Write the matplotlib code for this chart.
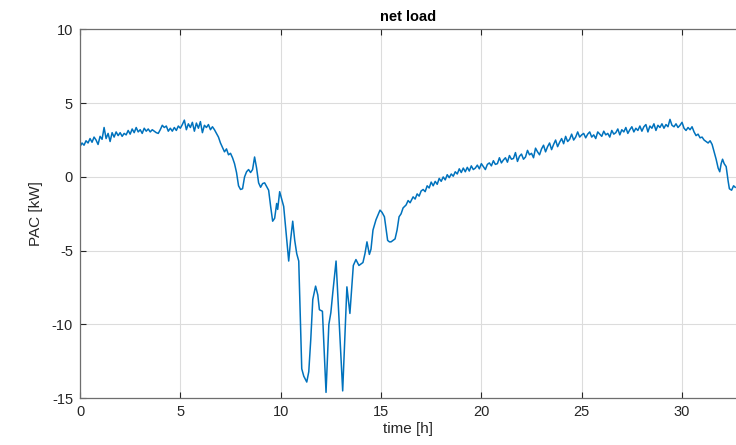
"""Net load PAC over time, MATLAB-style line plot."""
import matplotlib
matplotlib.use("Agg")
import matplotlib.pyplot as plt

# time [h] and PAC [kW]
time_h = [
    0.0, 0.1, 0.2, 0.3, 0.4, 0.5, 0.6, 0.7, 0.8, 0.9,
    1.0, 1.1, 1.2, 1.3, 1.4, 1.5, 1.6, 1.7, 1.8, 1.9,
    2.0, 2.1, 2.2, 2.3, 2.4, 2.5, 2.6, 2.7, 2.8, 2.9,
    3.0, 3.1, 3.2, 3.3, 3.4, 3.5, 3.6, 3.7, 3.8, 3.9,
    4.0, 4.1, 4.2, 4.3, 4.4, 4.5, 4.6, 4.7, 4.8, 4.9,
    5.0, 5.1, 5.2, 5.3, 5.4, 5.5, 5.6, 5.7, 5.8, 5.9,
    6.0, 6.1, 6.2, 6.3, 6.4, 6.5, 6.6, 6.7, 6.8, 6.9,
    7.0, 7.1, 7.2, 7.3, 7.4, 7.5, 7.6, 7.7, 7.8, 7.9,
    8.0, 8.1, 8.2, 8.3, 8.4, 8.5, 8.6, 8.7, 8.8, 8.9,
    9.0, 9.1, 9.2, 9.3, 9.4, 9.5, 9.6, 9.7, 9.8, 9.85,
    9.95, 10.05, 10.15, 10.27, 10.4, 10.5, 10.6, 10.7, 10.8, 10.9,
    11.05, 11.15, 11.3, 11.4, 11.5, 11.6, 11.74, 11.85, 11.93, 12.08,
    12.26, 12.4, 12.5, 12.6, 12.76, 12.9, 13.09, 13.3, 13.45, 13.62,
    13.75, 13.9, 14.1, 14.2, 14.3, 14.42, 14.5, 14.6, 14.75, 14.95,
    15.05, 15.17, 15.33, 15.42, 15.5, 15.6, 15.7, 15.8, 15.9, 16.0,
    16.1, 16.25, 16.35, 16.45, 16.6, 16.7, 16.8, 16.9, 17.0,
    17.1, 17.2, 17.3, 17.4, 17.5, 17.6, 17.7, 17.8, 17.9,
    18.0, 18.1, 18.2, 18.3, 18.4, 18.5, 18.6, 18.7, 18.8, 18.9,
    19.0, 19.1, 19.2, 19.3, 19.4, 19.5, 19.6, 19.7, 19.8, 19.9,
    20.0, 20.1, 20.2, 20.3, 20.4, 20.5, 20.6, 20.7, 20.8, 20.9,
    21.0, 21.1, 21.2, 21.3, 21.4, 21.5, 21.6, 21.7, 21.8, 21.9,
    22.0, 22.1, 22.2, 22.3, 22.4, 22.5, 22.6, 22.7, 22.8, 22.9,
    23.0, 23.1, 23.2, 23.3, 23.4, 23.5, 23.6, 23.7, 23.8, 23.9,
    24.0, 24.1, 24.2, 24.3, 24.4, 24.5, 24.6, 24.7, 24.8, 24.9,
    25.0, 25.1, 25.2, 25.3, 25.4, 25.5, 25.6, 25.7, 25.8, 25.9,
    26.0, 26.1, 26.2, 26.3, 26.4, 26.5, 26.6, 26.7, 26.8, 26.9,
    27.0, 27.1, 27.2, 27.3, 27.4, 27.5, 27.6, 27.7, 27.8, 27.9,
    28.0, 28.1, 28.2, 28.3, 28.4, 28.5, 28.6, 28.7, 28.8, 28.9,
    29.0, 29.1, 29.2, 29.3, 29.4, 29.5, 29.6, 29.7, 29.8, 29.9,
    30.0, 30.1, 30.2, 30.3, 30.4, 30.5, 30.6, 30.7, 30.8, 30.9,
    31.0, 31.1, 31.2, 31.3, 31.4, 31.5, 31.6, 31.7, 31.8, 31.88,
    31.95, 32.02, 32.1, 32.2, 32.3, 32.36, 32.47, 32.57, 32.65,
]
pac_kw = [
    2.05, 2.3, 2.15, 2.45, 2.3, 2.6, 2.35, 2.7, 2.5, 2.2,
    2.75, 2.55, 3.35, 2.6, 2.95, 2.4, 3.0, 2.7, 3.05, 2.8,
    3.0, 2.75, 2.95, 2.85, 3.15, 2.9, 3.25, 3.0, 3.35, 3.05,
    3.2, 2.95, 3.3, 3.1, 3.25, 3.05, 3.2, 3.1, 3.0, 2.95,
    3.2, 3.5, 3.35, 3.45, 3.1, 3.3, 3.1, 3.35, 3.15, 3.45,
    3.3, 3.55, 3.85, 3.2, 3.6, 3.35, 3.7, 3.1, 3.65, 3.3,
    3.75, 3.0, 3.5, 3.35, 3.55, 3.2, 3.4, 3.2, 2.95, 2.7,
    2.3, 2.0, 1.7, 1.9, 1.5, 1.6, 1.3, 0.9, 0.3, -0.6,
    -0.85, -0.8, 0.0, 0.35, 0.5, 0.3, 0.5, 1.35, 0.6, -0.4,
    -0.7, -0.45, -0.4, -0.65, -0.9, -2.0, -3.0, -2.8, -1.8, -2.2,
    -1.0, -1.5, -2.0, -3.8, -5.7, -4.2, -3.0, -4.3, -5.2, -5.7,
    -13.0, -13.5, -13.9, -13.2, -11.0, -8.3, -7.4, -8.0, -9.0, -9.1,
    -14.6, -10.0, -9.2, -7.8, -5.7, -9.4, -14.5, -7.45, -9.25, -6.0,
    -5.6, -6.0, -5.8, -5.2, -4.4, -5.25, -4.9, -3.6, -2.9, -2.25,
    -2.4, -2.7, -4.3, -4.4, -4.4, -4.3, -4.2, -3.6, -2.7, -2.5,
    -2.1, -1.9, -1.6, -1.75, -1.35, -1.5, -1.15, -1.3, -0.95,
    -0.85, -1.0, -0.6, -0.75, -0.35, -0.6, -0.3, -0.5, -0.1,
    -0.3, 0.0, -0.2, 0.15, -0.05, 0.2, 0.05, 0.35, 0.2, 0.55,
    0.3, 0.6, 0.35, 0.65, 0.4, 0.75, 0.5, 0.6, 0.8, 0.55,
    0.9, 0.7, 0.5, 0.85, 0.95, 0.75, 1.1, 0.85, 0.9, 1.3,
    0.95, 1.15, 1.3, 1.0, 1.45, 1.2, 1.25, 1.65, 1.05, 1.4,
    1.55, 1.2, 1.35, 1.8, 1.5, 1.6, 1.3, 1.95, 1.7, 1.5,
    1.9, 2.15, 1.7, 2.05, 2.3, 1.85, 2.2, 2.5, 2.05, 2.35,
    2.6, 2.25, 2.75, 2.4, 2.55, 2.9, 2.5, 2.7, 3.05, 2.7,
    2.85, 2.95, 2.65, 2.9, 3.05, 2.7, 2.85, 2.6, 3.05, 2.9,
    2.75, 3.1, 2.85, 2.95, 2.7, 3.15, 2.9, 3.0, 3.25, 2.85,
    3.2, 3.05, 3.35, 2.95, 3.2, 3.4, 3.05, 3.3, 3.15, 3.45,
    3.1, 3.4, 3.55, 3.05, 3.45, 3.3, 3.6, 3.15, 3.5, 3.35,
    3.6, 3.3, 3.55, 3.4, 3.9, 3.5, 3.4, 3.6, 3.35, 3.5,
    3.7, 3.3, 3.15, 3.35, 3.2, 3.4, 3.05, 2.8, 2.9, 2.65,
    2.7, 2.5, 2.4, 2.3, 2.45, 2.2, 1.7, 1.2, 0.6, 0.35,
    0.9, 1.2, 0.9, 0.7, -0.3, -0.8, -0.9, -0.6, -0.7,
]

x_ticks = [0, 5, 10, 15, 20, 25, 30]
y_ticks = [-15, -10, -5, 0, 5, 10]

plt.rcParams["font.family"] = ["Liberation Sans", "DejaVu Sans"]
plt.rcParams["axes.unicode_minus"] = False
axis_col = "#262626"

fig = plt.figure(figsize=(7.36, 4.45), dpi=100)
ax = fig.add_axes([0.1087, 0.105, 0.8913, 0.829])

ax.plot(time_h, pac_kw, color="#0072BD", linewidth=1.1)

ax.set_xlim(0, 32.69)
ax.set_ylim(-15, 10)
ax.set_xticks(x_ticks)
ax.set_yticks(y_ticks)
ax.grid(True, color="#dcdcdc", linewidth=0.8)
ax.set_axisbelow(True)

ax.tick_params(direction="in", length=4, width=0.8, colors=axis_col,
               labelsize=10.5, top=True, right=False, pad=5)
for side in ("left", "bottom", "top"):
    ax.spines[side].set_color("#6e6e6e")
    ax.spines[side].set_linewidth(0.9)
ax.spines["right"].set_visible(False)

ax.set_title("net load", fontsize=10.5, fontweight="bold", color="black", pad=6)
ax.set_xlabel("time [h]", fontsize=11, color=axis_col, labelpad=2)
ax.set_ylabel("PAC [kW]", fontsize=11, color=axis_col, labelpad=6)

fig.savefig("out.png", dpi=100)
